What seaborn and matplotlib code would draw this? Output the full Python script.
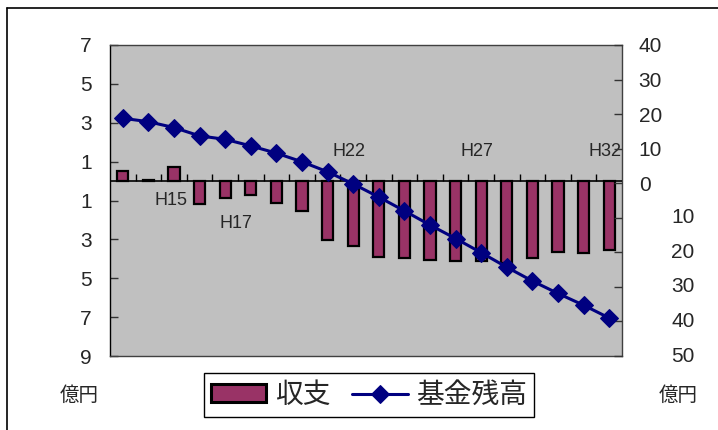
"""Fund balance chart: yearly balance (bars, left axis) and fund remainder
(line, right axis), H13 to H32. Writes out.png."""

import matplotlib

matplotlib.use('Agg')
import matplotlib.pyplot as plt
import matplotlib.transforms as mtransforms
import numpy as np
import seaborn as sns
from matplotlib.lines import Line2D

# data, 億円
YEARS = [f'H{n}' for n in range(13, 33)]
BALANCE = [0.5, 0.05, 0.7, -1.2, -0.85, -0.7, -1.15, -1.55, -3.05, -3.35,
           -3.9, -3.95, -4.05, -4.1, -4.1, -4.2, -3.95, -3.65, -3.7, -3.55]
FUND = [18.8, 17.8, 16.1, 13.7, 12.7, 10.8, 8.7, 6.2, 3.3, -0.2,
        -4.0, -8.0, -12.1, -16.0, -20.1, -24.3, -28.3, -31.9, -35.3, -39.0]
LEFT_TICKS = [7, 5, 3, 1, -1, -3, -5, -7, -9]
RIGHT_TICKS = [40, 30, 20, 10, 0, -10, -20, -30, -40, -50]
# year labels drawn inside the plot: (year, left-axis height, x nudge)
YEAR_NOTES = [('H15', -1.0, -0.1), ('H17', -2.2, 0.4), ('H22', 1.5, -0.15),
              ('H27', 1.5, -0.15), ('H32', 1.5, -0.15)]

BAR = '#993366'
LINE = '#000080'
PLOT_BG = '#C0C0C0'
W, H = 718, 430

sns.set_style('ticks')
plt.rcParams['font.family'] = ['Liberation Sans', 'Noto Sans CJK JP', 'DejaVu Sans']
CJK = ['Noto Sans CJK JP', 'DejaVu Sans']

fig = plt.figure(figsize=(W / 100, H / 100), dpi=100)
fig.patch.set_facecolor('white')
ax = fig.add_axes([110 / W, 1 - 356 / H, 512 / W, 311 / H])
ax.set_facecolor(PLOT_BG)

sns.barplot(x=YEARS, y=BALANCE, color=BAR, saturation=1, width=0.44,
            edgecolor='black', linewidth=1.6, ax=ax, label='収支', zorder=3)
if ax.get_legend() is not None:
    ax.get_legend().remove()
ax.set_ylim(-9, 7)
ax.set_xlim(-0.5, len(YEARS) - 0.5)
ax.set_yticks(LEFT_TICKS)
ax.set_yticklabels([str(abs(v)) for v in LEFT_TICKS])
ax.set_xticks([])
ax.set_xlabel('')
ax.axhline(0, color='black', lw=1.2, zorder=4)
ax.vlines(np.arange(1, len(YEARS)) - 0.5, 0, 0.36, color='black', lw=1, zorder=4)
ax.tick_params(axis='y', direction='in', length=6, width=1, pad=13,
               labelsize=15, color='#333333')
for s in ax.spines.values():
    s.set_color('#404040')
    s.set_linewidth(1)
ax.spines['left'].set_color('black')

for name, yv, dx in YEAR_NOTES:
    ax.text(YEARS.index(name) + dx, yv, name, ha='center', va='center',
            fontsize=13, zorder=5)

ax2 = ax.twinx()
sns.lineplot(x=np.arange(len(YEARS)), y=FUND, color=LINE, lw=2.2, marker='D',
             markersize=9, markeredgecolor=LINE, ax=ax2, label='基金残高',
             zorder=6)
ax2.get_legend().remove()
ax2.set_ylim(-50, 40)
ax2.set_yticks(RIGHT_TICKS)
ax2.set_yticklabels([str(v) if v >= 0 else '' for v in RIGHT_TICKS])
ax2.tick_params(axis='y', direction='in', length=6, width=1, pad=12,
                labelsize=15, color='#333333')
for s in ax2.spines.values():
    s.set_visible(False)
# negative right-axis labels sit further out, as in the source workbook
neg_tr = mtransforms.blended_transform_factory(ax2.transAxes, ax2.transData)
for v in RIGHT_TICKS:
    if v < 0:
        ax2.text(1 + 49 / 512, v, str(abs(v)), transform=neg_tr, ha='left',
                 va='center', fontsize=15)

fig.text(79 / W, 1 - 395 / H, '億円', ha='center', va='center', fontsize=14,
         family=CJK)
fig.text(678 / W, 1 - 395 / H, '億円', ha='center', va='center', fontsize=14,
         family=CJK)

handles = ax.get_legend_handles_labels()[0] + ax2.get_legend_handles_labels()[0]
labels = ['収支', '基金残高']
leg = fig.legend(handles, labels, loc='center',
                 bbox_to_anchor=(369 / W, 1 - 395 / H), ncol=2, frameon=True,
                 fancybox=False, edgecolor='black', framealpha=1,
                 prop={'family': CJK, 'size': 20}, handlelength=2.0,
                 handleheight=0.6, handletextpad=0.3, columnspacing=0.8,
                 borderpad=0.25, borderaxespad=0)
leg.get_frame().set_linewidth(1)
for p in leg.get_patches():
    p.set_linewidth(2.2)

# outer chart border (left and top edges visible in the crop)
fig.add_artist(Line2D([7 / W, 7 / W], [0, 1 - 8 / H], color='black', lw=1.2))
fig.add_artist(Line2D([7 / W, 1], [1 - 8 / H, 1 - 8 / H], color='black', lw=1.2))

fig.savefig('out.png', dpi=100)
